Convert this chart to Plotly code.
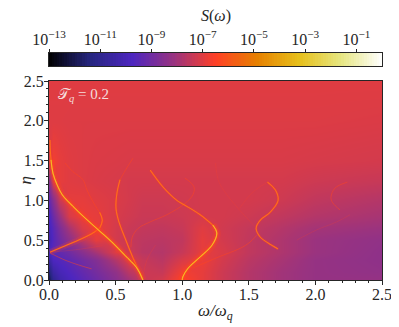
#!/usr/bin/env python
import plotly.graph_objects as go

# CMRmap
cmr_colors = ["#000000", "#262680", "#4d26bf", "#993380", "#ff4026", "#e68000", "#e6bf1a", "#e6e680", "#ffffff"]
cmr_scale = [[i / 8, c] for i, c in enumerate(cmr_colors)]

# background of log10 S
omega = [0, 0.03, 0.08, 0.15, 0.25, 0.35, 0.5, 0.6, 0.7, 0.85, 1.0, 1.15, 1.3, 1.5, 1.75, 2.0, 2.5]
eta = [0, 0.1, 0.25, 0.35, 0.5, 0.65, 0.8, 1.0, 1.25, 1.5, 2.0, 2.5]
log_s = [
    [-12, -11, -10.3, -9.9, -9.5, -9.1, -8.5, -8.0, -7.4, -7.2, -6.5, -6.9, -7.3, -7.7, -8.0, -8.2, -8.2],
    [-11.5, -10.5, -10, -9.7, -9.3, -8.9, -8.3, -7.6, -7.3, -7.4, -6.7, -6.9, -7.3, -7.7, -8.0, -8.2, -8.3],
    [-10.5, -9.8, -9.6, -9.4, -9.0, -8.6, -7.7, -7.0, -7.4, -7.6, -7.1, -6.8, -7.2, -7.6, -7.9, -8.2, -8.35],
    [-9.8, -9.4, -9.3, -9.0, -8.5, -7.9, -7.0, -7.3, -7.6, -7.7, -7.4, -6.9, -7.1, -7.5, -7.8, -8.1, -8.35],
    [-10.2, -9.6, -9.0, -8.4, -7.6, -6.9, -7.2, -7.4, -7.55, -7.6, -7.5, -6.9, -7.2, -7.5, -7.8, -8.1, -8.3],
    [-10, -9.5, -8.7, -7.9, -7.1, -6.8, -7.2, -7.35, -7.45, -7.5, -7.4, -7.0, -7.25, -7.45, -7.7, -7.95, -8.1],
    [-9.8, -9.1, -8.1, -7.1, -6.8, -6.9, -7.15, -7.25, -7.35, -7.35, -7.3, -7.2, -7.2, -7.3, -7.5, -7.7, -7.9],
    [-9.3, -8.5, -7.3, -6.9, -6.9, -7.0, -7.1, -7.2, -7.3, -7.3, -7.25, -7.2, -7.2, -7.2, -7.3, -7.5, -7.7],
    [-8.4, -7.1, -6.9, -7, -7.05, -7.1, -7.15, -7.2, -7.2, -7.2, -7.2, -7.2, -7.2, -7.2, -7.2, -7.3, -7.4],
    [-7.2, -6.7, -6.9, -7, -7.05, -7.08, -7.1, -7.12, -7.12, -7.12, -7.12, -7.12, -7.12, -7.12, -7.12, -7.15, -7.2],
    [-7.03, -7.03, -7.03, -7.05, -7.05, -7.05, -7.05, -7.05, -7.05, -7.05, -7.05, -7.05, -7.05, -7.05, -7.05, -7.05, -7.08],
    [-7.0, -7.0, -7.0, -7.0, -7.0, -7.0, -7.0, -7.0, -7.0, -7.0, -7.0, -7.0, -7.0, -7.0, -7.0, -7.0, -7.0],
]

# ridges (omega, eta)
main_w = [0.0075, 0.01, 0.015, 0.03, 0.06, 0.10, 0.18, 0.27, 0.37, 0.47, 0.57, 0.66, 0.705]
main_e = [1.76, 1.63, 1.51, 1.34, 1.20, 1.07, 0.925, 0.78, 0.63, 0.48, 0.31, 0.15, 0]
low_w = [0.0075, 0.1, 0.22, 0.32, 0.38, 0.40, 0.38, 0.345, 0.285, 0.255, 0.18, 0.12]
low_e = [0.35, 0.415, 0.5, 0.58, 0.65, 0.75, 0.85, 0.94, 1.13, 1.26, 1.36, 1.47]
down_w = [0.0075, 0.12, 0.22, 0.32]
down_e = [0.34, 0.25, 0.19, 0.14]
up_w = [0.0075, 0.2, 0.4]
up_e = [0.35, 0.38, 0.43]
mid_w = [0.63, 0.585, 0.533, 0.51, 0.503, 0.525, 0.57, 0.63, 0.70]
mid_e = [1.53, 1.41, 1.26, 1.09, 0.90, 0.73, 0.53, 0.28, 0.03]
cross_w = [0.615, 0.625, 0.67, 0.76, 0.885, 1.02, 1.08, 1.09, 1.06, 1.02]
cross_e = [0.41, 0.54, 0.65, 0.73, 0.82, 0.96, 1.07, 1.16, 1.23, 1.28]
peak_w = [0.76, 0.855, 0.96, 1.02, 1.135, 1.23, 1.26, 1.225, 1.135, 1.045, 1.005, 1.0]
peak_e = [1.38, 1.17, 1.0, 0.94, 0.82, 0.69, 0.59, 0.44, 0.29, 0.15, 0.04, 0]
link_w = [1.08, 1.26, 1.455, 1.525, 1.56]
link_e = [0.15, 0.28, 0.415, 0.5, 0.565]
wave_w = [1.64, 1.70, 1.72, 1.66, 1.585, 1.555, 1.585, 1.645, 1.72]
wave_e = [1.23, 1.13, 1.0, 0.85, 0.75, 0.65, 0.54, 0.465, 0.39]
diag_w = [1.25, 1.27, 1.31, 1.43, 1.55]
diag_e = [1.47, 1.26, 1.13, 0.88, 0.665]
arm_w = [1.43, 1.51, 1.57, 1.64]
arm_e = [0.9, 1.07, 1.155, 1.23]
right_w = [2.24, 2.147, 2.117, 2.13, 2.185]
right_e = [1.23, 1.155, 1.04, 0.97, 0.88]
far_w = [1.86, 2.01, 2.16, 2.26]
far_e = [0.50, 0.63, 0.73, 0.82]
small_w = [0.8, 0.735, 0.705]
small_e = [0.44, 0.25, 0.04]

# cell centres of the colour bar, a tenth of a decade wide
bar_levels = [-13 + 0.05 + 0.1 * i for i in range(130)]
bar_ticks = [-13, -11, -9, -7, -5, -3, -1]
bar_labels = ["10<sup>\u2212%d</sup>" % -t for t in bar_ticks]
axis_ticks = [0, 0.5, 1, 1.5, 2, 2.5]
axis_labels = ["0.0", "0.5", "1.0", "1.5", "2.0", "2.5"]

ink = "#262626"
serif = "Liberation Serif"


def add_ridge(fig, w, e, layers):
    # each layer is (color, width), widest first
    for color, width in layers:
        fig.add_trace(go.Scatter(
            x=w, y=e, mode="lines",
            line=dict(color=color, width=width, shape="spline", smoothing=1),
            hoverinfo="skip", showlegend=False, xaxis="x", yaxis="y",
        ))


bright = [("rgba(255,70,30,0.2)", 8), ("rgba(255,75,30,0.45)", 4), ("#ff8a14", 1.2), ("#f0d030", 0.7)]
medium = [("rgba(255,70,30,0.22)", 3), ("#ff5a1e", 1.1), ("rgba(255,150,20,0.7)", 0.5)]
glowing = [("rgba(255,70,30,0.2)", 6)] + medium
dim = [("rgba(255,70,30,0.55)", 0.9)]
faint = [("rgba(255,64,38,0.25)", 0.8)]

fig = go.Figure()
fig.add_trace(go.Heatmap(
    x=omega, y=eta, z=log_s, zmin=-13, zmax=0, colorscale=cmr_scale,
    zsmooth="best", showscale=False, hoverinfo="skip", xaxis="x", yaxis="y",
))
add_ridge(fig, low_w[:5], low_e[:5], glowing)
add_ridge(fig, low_w[4:7], low_e[4:7], medium)
add_ridge(fig, low_w[6:], low_e[6:], dim)
add_ridge(fig, down_w, down_e, dim)
add_ridge(fig, up_w, up_e, faint)
add_ridge(fig, mid_w[:3], mid_e[:3], dim)
add_ridge(fig, mid_w[2:], mid_e[2:], medium)
add_ridge(fig, cross_w, cross_e, dim)
add_ridge(fig, peak_w[:6], peak_e[:6], medium)
add_ridge(fig, peak_w[5:], peak_e[5:], bright)
add_ridge(fig, link_w, link_e, dim)
add_ridge(fig, wave_w, wave_e, medium)
add_ridge(fig, diag_w, diag_e, faint)
add_ridge(fig, arm_w, arm_e, faint)
add_ridge(fig, right_w, right_e, dim)
add_ridge(fig, far_w, far_e, faint)
add_ridge(fig, small_w, small_e, faint)
add_ridge(fig, main_w[:3], main_e[:3], medium)
add_ridge(fig, main_w[2:], main_e[2:], bright)

# colour bar as its own small heatmap so the ticks can sit on top
fig.add_trace(go.Heatmap(
    x=bar_levels, y=[0.5], z=[bar_levels], zmin=-13, zmax=0,
    colorscale=cmr_scale, showscale=False, hoverinfo="skip",
    xaxis="x2", yaxis="y2",
))

frame = dict(showline=True, linecolor=ink, linewidth=1, mirror=True, showgrid=False,
             zeroline=False, automargin=False)
main_axis = dict(
    frame, range=[0, 2.5], tickvals=axis_ticks, ticktext=axis_labels, ticks="outside",
    ticklen=4, tickwidth=1, tickcolor=ink, tickfont=dict(family=serif, size=16, color=ink),
    minor=dict(dtick=0.1, ticks="outside", ticklen=2, tickwidth=1, tickcolor=ink, showgrid=False),
)

# the page keeps its 8px body margin, so the figure is 8px smaller on each lead edge
fig.update_layout(
    width=391, height=319, autosize=False,
    margin=dict(l=41, r=17, t=0, b=47),
    paper_bgcolor="white", plot_bgcolor="white", showlegend=False,
    xaxis=dict(main_axis, domain=[0, 1], anchor="y", ticklabelstandoff=-4),
    yaxis=dict(main_axis, domain=[0, 199 / 272], anchor="x", ticklabelstandoff=-3),
    xaxis2=dict(
        frame, range=[-13, 0], domain=[0, 1], anchor="y2", side="top", tickvals=bar_ticks,
        ticktext=bar_labels, ticks="outside", ticklen=3, tickwidth=1, tickcolor=ink,
        tickfont=dict(family=serif, size=16, color=ink), ticklabelstandoff=-2,
    ),
    yaxis2=dict(frame, range=[0, 1], domain=[214 / 272, 227 / 272], anchor="x2",
                showticklabels=False, ticks=""),
)

fig.add_annotation(
    text="<i>\u03c9/\u03c9<sub>q</sub></i>", xref="paper", yref="paper", x=0.5, y=0, yanchor="middle",
    yshift=-32, showarrow=False, font=dict(family=serif, size=17, color=ink),
)
fig.add_annotation(
    text="<i>\u03b7</i>", xref="paper", yref="paper", x=0, y=99.5 / 272, xshift=-24, xanchor="center",
    yanchor="middle", textangle=-90, showarrow=False, font=dict(family=serif, size=17, color=ink),
)
fig.add_annotation(
    text="<i>S</i>(<i>\u03c9</i>)", xref="paper", yref="paper", x=0.5, y=1, yanchor="middle", yshift=-8,
    showarrow=False, font=dict(family=serif, size=16, color=ink),
)
fig.add_annotation(
    text="\U0001d4af<sub><i>q</i></sub> = 0.2", xref="x", yref="y", x=0.055, y=2.33, xanchor="left",
    yanchor="middle", showarrow=False, font=dict(family=serif, size=15, color="#f5dcdc"),
)

fig.write_html("out.html")
